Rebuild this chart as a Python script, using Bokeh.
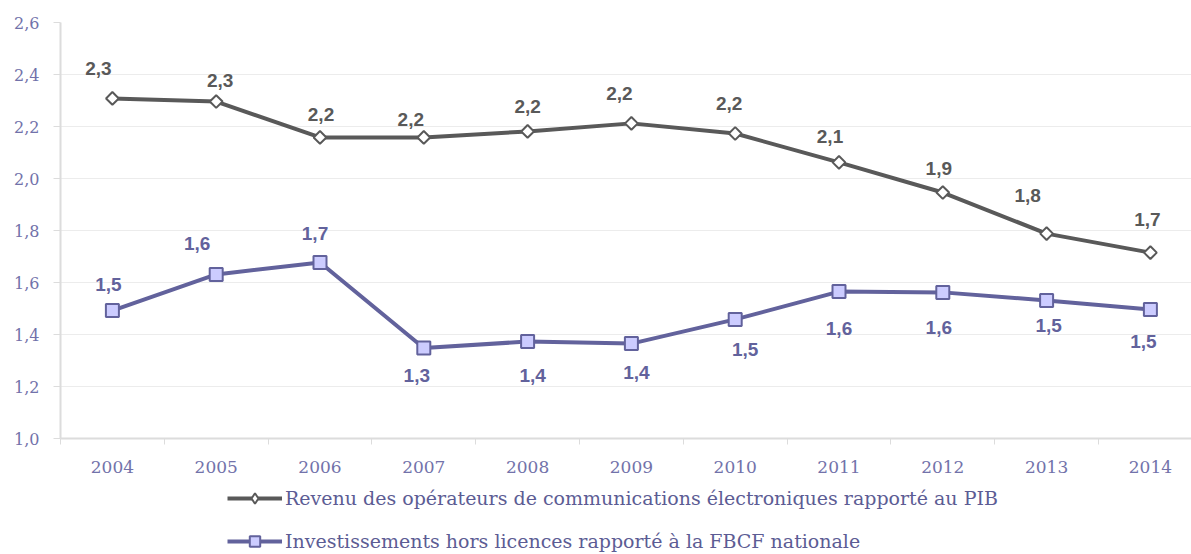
import numpy as np
from bokeh.plotting import figure
from bokeh.layouts import column
from bokeh.models import (Range1d, FixedTicker, CustomJSTickFormatter, ColumnDataSource,
                          Legend, LegendItem)
from bokeh.core.properties import value
from bokeh.embed import file_html
from bokeh.resources import INLINE

# ---- data ----
years = [2004, 2005, 2006, 2007, 2008, 2009, 2010, 2011, 2012, 2013, 2014]
revenu = [2.308, 2.296, 2.158, 2.158, 2.181, 2.212, 2.173, 2.062, 1.946, 1.788, 1.715]
revenu_labels = ["2,3", "2,3", "2,2", "2,2", "2,2", "2,2", "2,2", "2,1", "1,9", "1,8", "1,7"]
invest = [1.492, 1.631, 1.677, 1.348, 1.373, 1.365, 1.458, 1.565, 1.562, 1.531, 1.496]
invest_labels = ["1,5", "1,6", "1,7", "1,3", "1,4", "1,4", "1,5", "1,6", "1,6", "1,5", "1,5"]
y_ticks = [1.0, 1.2, 1.4, 1.6, 1.8, 2.0, 2.2, 2.4, 2.6]
series_names = ["Revenu des opérateurs de communications électroniques rapporté au PIB",
                "Investissements hors licences rapporté à la FBCF nationale"]

# ---- label placement (screen px) ----
rev_dx = [-14, 4, 1, -13, 0, -12, -6, -9, -4, -19, -3]
rev_dy = [-30, -21, -23, -18, -25, -30, -30, -26, -24, -38, -33]
inv_dx = [-4, -19, -5, -7, 5, 5, 10, 0, -4, 2, -7]
inv_dy = [-26, -31, -29, 27, 34, 29, 30, 37, 35, 25, 32]

GRAY = "#595959"
PURPLE = "#62629c"
AXIS_TXT = "#7272aa"
LEG_TXT = "#5c5c94"

W = 1191
H_MAIN, H_LEG = 487, 67
left, top = 60, 22
frame_w = W - left
px_per_year = 103.8

p = figure(width=W, height=H_MAIN, output_backend="svg", toolbar_location=None,
           x_range=Range1d(2003.5, 2003.5 + frame_w / px_per_year),
           y_range=Range1d(1.0, 2.6),
           min_border_left=left, min_border_right=0, min_border_top=top,
           min_border_bottom=49)
p.outline_line_color = None
p.background_fill_color = "white"
p.border_fill_color = "white"

# axes
p.yaxis.ticker = FixedTicker(ticks=y_ticks)
p.yaxis.formatter = CustomJSTickFormatter(code="return tick.toFixed(1).replace('.', ',');")
p.yaxis.axis_line_color = "#dcdcdc"
p.yaxis.axis_line_width = 2
p.yaxis.major_tick_line_color = "#dcdcdc"
p.yaxis.major_tick_out = 7
p.yaxis.major_tick_in = 0
p.yaxis.minor_tick_line_color = None
p.yaxis.major_label_text_font = "DejaVu Serif"
p.yaxis.major_label_text_font_size = "16px"
p.yaxis.major_label_text_color = AXIS_TXT
p.yaxis.major_label_standoff = 14

p.xaxis.ticker = FixedTicker(ticks=years, minor_ticks=[y - 0.5 for y in years] + [years[-1] + 0.5])
p.xaxis.formatter = CustomJSTickFormatter(code="return String(tick);")
p.xaxis.axis_line_color = "#dcdcdc"
p.xaxis.axis_line_width = 2
p.xaxis.major_tick_line_color = None
p.xaxis.major_tick_out = 0
p.xaxis.major_tick_in = 0
p.xaxis.minor_tick_line_color = "#dcdcdc"
p.xaxis.minor_tick_out = 6
p.xaxis.minor_tick_in = 0
p.xaxis.major_label_text_font = "DejaVu Serif"
p.xaxis.major_label_text_font_size = "17px"
p.xaxis.major_label_text_color = AXIS_TXT
p.xaxis.major_label_standoff = 16

p.xgrid.grid_line_color = None
p.ygrid.ticker = FixedTicker(ticks=y_ticks[1:])
p.ygrid.grid_line_color = "#ececec"
p.ygrid.grid_line_width = 1

src_r = ColumnDataSource(dict(x=years, y=revenu, t=revenu_labels, dx=rev_dx, dy=rev_dy))
src_i = ColumnDataSource(dict(x=years, y=invest, t=invest_labels, dx=inv_dx, dy=inv_dy))

line_r = dict(line_color=GRAY, line_width=4)
mark_r = dict(marker="square", angle=np.pi / 4, size=9, fill_color="white",
              line_color=GRAY, line_width=2)
line_i = dict(line_color=PURPLE, line_width=4)
mark_i = dict(marker="square", size=13, fill_color="#ccccff", line_color=PURPLE, line_width=2)

p.line("x", "y", source=src_r, **line_r)
p.scatter("x", "y", source=src_r, **mark_r)
p.line("x", "y", source=src_i, **line_i)
p.scatter("x", "y", source=src_i, **mark_i)

p.text("x", "y", text="t", source=src_r, x_offset="dx", y_offset="dy",
       text_align="center", text_baseline="middle", text_color=GRAY,
       text_font=value("Liberation Sans"), text_font_style="bold", text_font_size="19px")
p.text("x", "y", text="t", source=src_i, x_offset="dx", y_offset="dy",
       text_align="center", text_baseline="middle", text_color=PURPLE,
       text_font=value("Liberation Sans"), text_font_style="bold", text_font_size="19px")

# ---- legend strip (renderers share the series data, which lies outside this strip's range) ----
lg = figure(width=W, height=H_LEG, output_backend="svg", toolbar_location=None,
            x_range=Range1d(0, 1), y_range=Range1d(0, 1),
            x_axis_location=None, y_axis_location=None,
            min_border_left=0, min_border_right=0, min_border_top=0, min_border_bottom=0)
lg.grid.visible = False
lg.outline_line_color = None
lg.background_fill_color = "white"
lg.border_fill_color = "white"
g1 = lg.line("x", "y", source=src_r, **line_r)
g1m = lg.scatter("x", "y", source=src_r, marker="diamond", fill_color="white",
                 line_color=GRAY, line_width=2)
g2 = lg.line("x", "y", source=src_i, **line_i)
g2m = lg.scatter("x", "y", source=src_i, **mark_i)

legend = Legend(items=[LegendItem(label=series_names[0], renderers=[g1, g1m]),
                       LegendItem(label=series_names[1], renderers=[g2, g2m])],
                location=(167, 0), orientation="vertical",
                glyph_width=55, glyph_height=26, label_height=24, spacing=17,
                label_standoff=3, padding=0, margin=0,
                border_line_color=None, background_fill_alpha=0,
                label_text_font="DejaVu Serif", label_text_font_size="19px",
                label_text_color=LEG_TXT)
lg.add_layout(legend, "center")

layout = column(p, lg, spacing=0)
open("out.html", "w").write(file_html(layout, INLINE))
